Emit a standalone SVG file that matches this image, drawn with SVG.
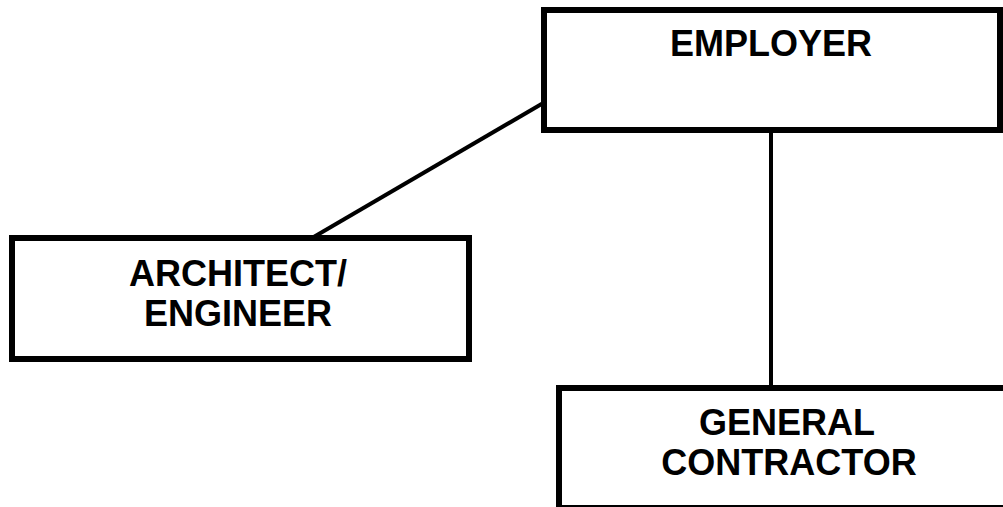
<svg xmlns="http://www.w3.org/2000/svg" width="1003" height="507" viewBox="0 0 1003 507">
<style>
.box{fill:#fff;stroke:#000;stroke-width:6}
.lbl{font-family:"Liberation Sans",Arial,sans-serif;font-weight:bold;font-size:36px;fill:#000;text-anchor:middle}
.conn{stroke:#000;stroke-width:4;fill:none}
</style>
<rect width="1003" height="507" fill="#fff"/>
<g id="connectors">
<line class="conn" x1="545" y1="102" x2="312" y2="238"/>
<line class="conn" x1="771" y1="130" x2="771" y2="388"/>
</g>
<g id="employer">
<rect class="box" x="544" y="10" width="456" height="120"/>
<text class="lbl" x="771" y="56">EMPLOYER</text>
</g>
<g id="architect">
<rect class="box" x="12" y="238" width="457" height="121"/>
<text class="lbl" x="238" y="286">ARCHITECT/</text>
<text class="lbl" x="238" y="326">ENGINEER</text>
</g>
<g id="contractor">
<rect class="box" x="559" y="388" width="460" height="120"/>
<text class="lbl" x="787" y="435">GENERAL</text>
<text class="lbl" x="789" y="475">CONTRACTOR</text>
</g>
</svg>
